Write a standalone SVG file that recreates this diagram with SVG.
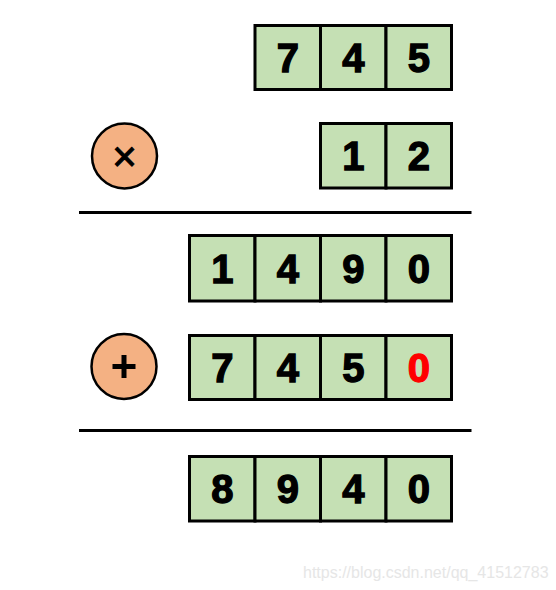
<svg xmlns="http://www.w3.org/2000/svg" width="556" height="590" viewBox="0 0 556 590">
<style>
.cell{fill:#C5E0B4;stroke:#000;stroke-width:3}
.op{fill:#F4B183;stroke:#000;stroke-width:2.5}
.d{font-family:"Liberation Sans",Arial,sans-serif;font-weight:bold;font-size:40px;text-anchor:middle;fill:#000;stroke:#000;stroke-width:1.3}
.red{fill:#FF0000;stroke:#FF0000}
.rule{stroke:#000;stroke-width:3}
.wm{font-family:"Liberation Sans",Arial,sans-serif;font-size:16px;fill:#E6E6E6}
</style>
<rect width="556" height="590" fill="#fff"/>
<g id="row-745">
<rect class="cell" x="255" y="25.5" width="65.5" height="64"/>
<rect class="cell" x="320.5" y="25.5" width="65.5" height="64"/>
<rect class="cell" x="386" y="25.5" width="65.5" height="64"/>
<text class="d" x="287.75" y="71.5">7</text>
<text class="d" x="353.25" y="71.5">4</text>
<text class="d" x="418.75" y="71.5">5</text>
</g>
<g id="op-times">
<circle class="op" cx="124.5" cy="156" r="32.5"/>
<text x="124.5" y="171" font-family="Liberation Sans,Arial,sans-serif" font-size="42" text-anchor="middle" stroke="#000" stroke-width="1">×</text>
</g>
<g id="row-12">
<rect class="cell" x="320.5" y="123.5" width="65.5" height="64.5"/>
<rect class="cell" x="386" y="123.5" width="65.5" height="64.5"/>
<text class="d" x="353.25" y="170">1</text>
<text class="d" x="418.75" y="170">2</text>
</g>
<g id="rules">
<line class="rule" x1="79" y1="212.5" x2="471.5" y2="212.5"/>
<line class="rule" x1="79" y1="430.5" x2="471.5" y2="430.5"/>
</g>
<g id="row-1490">
<rect class="cell" x="189.5" y="235.5" width="65.5" height="65.5"/>
<rect class="cell" x="255" y="235.5" width="65.5" height="65.5"/>
<rect class="cell" x="320.5" y="235.5" width="65.5" height="65.5"/>
<rect class="cell" x="386" y="235.5" width="65.5" height="65.5"/>
<text class="d" x="222.25" y="282.5">1</text>
<text class="d" x="287.75" y="282.5">4</text>
<text class="d" x="353.25" y="282.5">9</text>
<text class="d" x="418.75" y="282.5">0</text>
</g>
<g id="op-plus">
<circle class="op" cx="124" cy="366.5" r="32.5"/>
<path d="M124 355v23M112.5 366.5h23" stroke="#000" stroke-width="5"/>
</g>
<g id="row-7450">
<rect class="cell" x="189.5" y="335.5" width="65.5" height="64"/>
<rect class="cell" x="255" y="335.5" width="65.5" height="64"/>
<rect class="cell" x="320.5" y="335.5" width="65.5" height="64"/>
<rect class="cell" x="386" y="335.5" width="65.5" height="64"/>
<text class="d" x="222.25" y="381.5">7</text>
<text class="d" x="287.75" y="381.5">4</text>
<text class="d" x="353.25" y="381.5">5</text>
<text class="d red" x="418.75" y="381.5">0</text>
</g>
<g id="row-8940">
<rect class="cell" x="189.5" y="456.5" width="65.5" height="64.5"/>
<rect class="cell" x="255" y="456.5" width="65.5" height="64.5"/>
<rect class="cell" x="320.5" y="456.5" width="65.5" height="64.5"/>
<rect class="cell" x="386" y="456.5" width="65.5" height="64.5"/>
<text class="d" x="222.25" y="503">8</text>
<text class="d" x="287.75" y="503">9</text>
<text class="d" x="353.25" y="503">4</text>
<text class="d" x="418.75" y="503">0</text>
</g>
<text class="wm" x="303" y="578">https://blog.csdn.net/qq_41512783</text>
</svg>
